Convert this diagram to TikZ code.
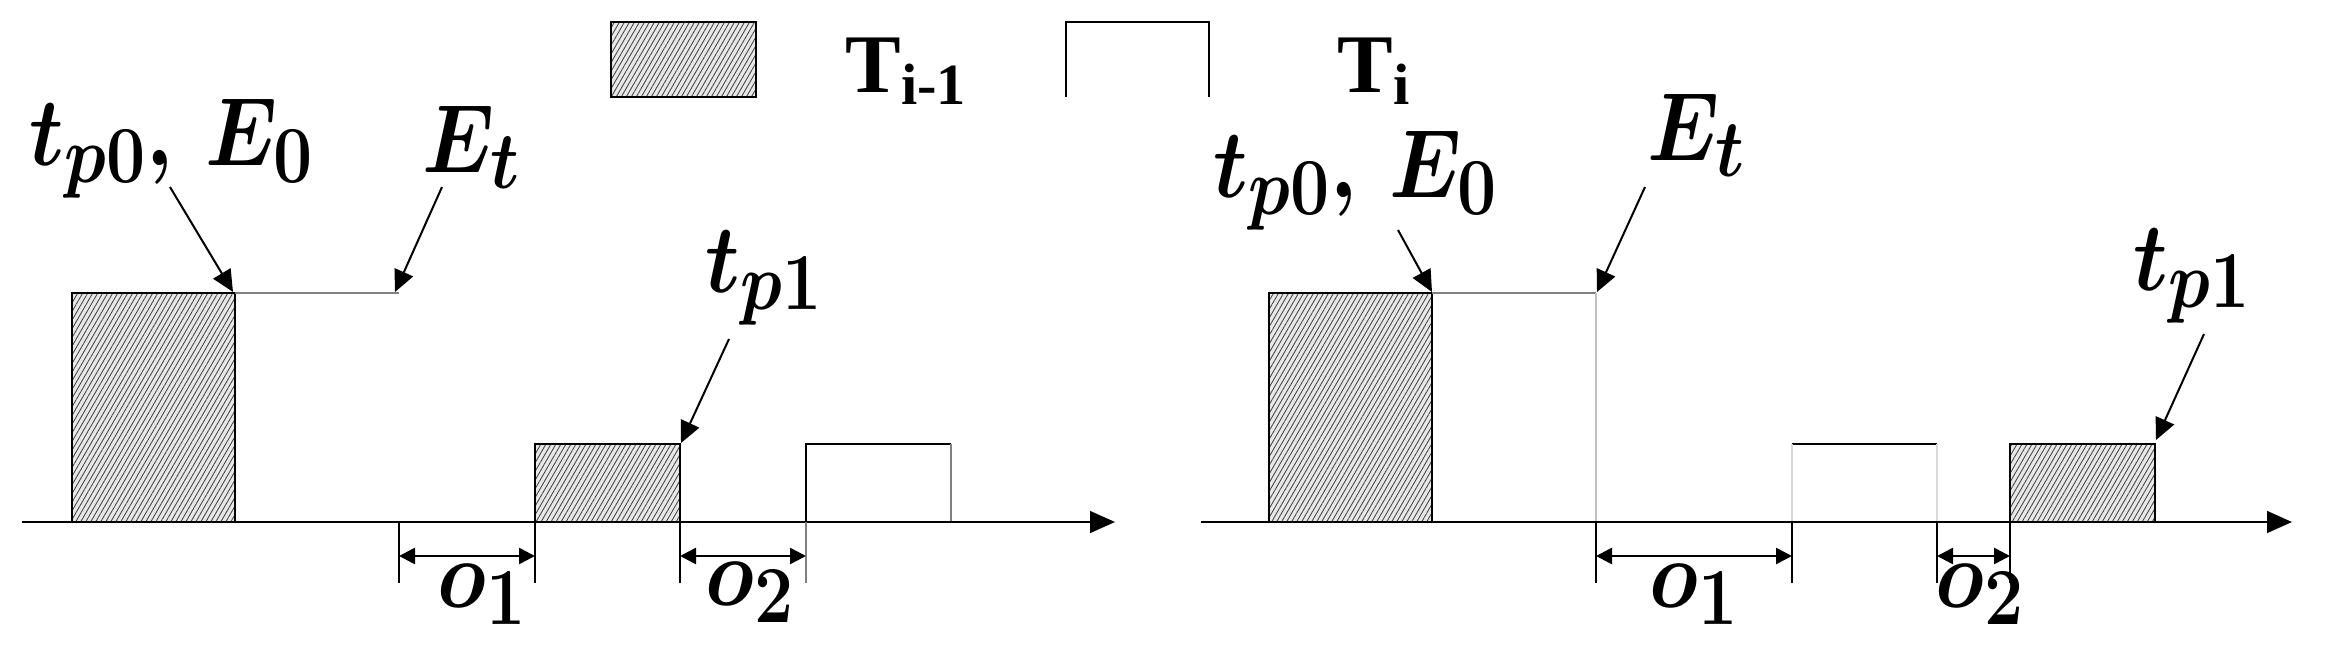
\documentclass[tikz,border=0pt]{standalone}
\usepackage{amsmath}
\usepackage{fontspec}
\newfontfamily\legendfont{Liberation Serif}
\usetikzlibrary{arrows.meta,patterns.meta}

\tikzset{
  hatchbox/.style={draw=black,line width=0.4pt,preaction={fill=gray!18},
    pattern={Lines[angle=60,distance=1.3pt,line width=0.25pt]},pattern color=black!75},
  axisline/.style={line width=0.8pt,-{Triangle[length=7.5pt,width=6.5pt]}},
  tickline/.style={line width=0.6pt},
  gapline/.style={line width=0.8pt,{Triangle[length=4.8pt,width=4.8pt]}-{Triangle[length=4.8pt,width=4.8pt]}},
  callout/.style={line width=0.6pt,-{Triangle[length=6.5pt,width=6pt]}},
  lbl/.style={font=\Huge,scale=1.17,xscale=0.86,inner sep=0pt,anchor=base west},
  legendlbl/.style={font=\fontsize{25}{30}\selectfont\legendfont\bfseries,inner sep=0pt,anchor=base west},
  thinline/.style={line width=0.4pt},
}

\begin{document}
\begin{tikzpicture}[x=0.3pt,y=0.3pt,yscale=-1]
\useasboundingbox (0,0) rectangle (2337,653);

%Legend
\draw [hatchbox] (611,22) rectangle (756,97);
\node [legendlbl] (legold) at (845,92) {T\textsubscript{i-1}};
\draw [thinline] (1066,97) -- (1066,22) -- (1209,22) -- (1209,97);
\node [legendlbl] (legnew) at (1337,92) {T\textsubscript{i}};

%%%%%%%% left panel
%Shapes
\draw [hatchbox] (72,293) rectangle (235,522);
\draw [thinline,gray] (235,293) -- (399,293);
\draw [hatchbox] (535,444) rectangle (680,522);
\draw [thinline] (806,522) -- (806,444) -- (951,444);
\draw [thinline,gray] (951,444) -- (951,522);

%Axis
\coordinate (axL0) at (22,522);
\coordinate (axL1) at (1115,522);
\draw [axisline] (axL0) -- (axL1);

%Ticks and gaps
\foreach \xx/\nm in {399/a,535/b,680/c,806/d}{
  \coordinate (tL\nm) at (\xx,556);
}
\foreach \xx in {399,535,680}{
  \draw [tickline] (\xx,522) -- (\xx,583);
}
\draw [tickline,gray] (806,522) -- (806,583);
\draw [gapline] (tLa) -- (tLb);
\draw [gapline] (tLc) -- (tLd);

% Text Node
\node [lbl] (tpzL) at (29,165) {$\boldsymbol{t_{p0},\,E_0}$};
\node [lbl] (etL) at (422,172) {$\boldsymbol{E_t}$};
\node [lbl] (tpoL) at (705,292) {$\boldsymbol{t_{p1}}$};
\node [lbl] (ooL) at (437,607) {$\boldsymbol{o_1}$};
\node [lbl] (otL) at (705,605) {$\boldsymbol{o_2}$};

%Callouts
\coordinate (tpzLs) at (170,187);
\coordinate (tpzLe) at (233,292);
\coordinate (etLs) at (442,187);
\coordinate (etLe) at (395,292);
\coordinate (tpoLs) at (729,339);
\coordinate (tpoLe) at (681,443);
\draw [callout] (tpzLs) -- (tpzLe);
\draw [callout] (etLs) -- (etLe);
\draw [callout] (tpoLs) -- (tpoLe);

%%%%%%%% right panel
%Shapes
\draw [hatchbox] (1269,293) rectangle (1432,522);
\draw [thinline,gray] (1432,293) -- (1596,293);
\draw [thinline,gray!50] (1596,293) -- (1596,522);
\draw [thinline] (1792,444) -- (1937,444);
\draw [thinline,gray!30] (1792,444) -- (1792,522) (1937,444) -- (1937,522);
\draw [hatchbox] (2010,444) rectangle (2155,522);

%Axis
\coordinate (axR0) at (1201,522);
\coordinate (axR1) at (2292,522);
\draw [axisline] (axR0) -- (axR1);

%Ticks and gaps
\foreach \xx/\nm in {1596/a,1792/b,1937/c,2010/d}{
  \coordinate (tR\nm) at (\xx,556);
  \draw [tickline] (\xx,522) -- (\xx,583);
}
\draw [gapline] (tRa) -- (tRb);
\draw [gapline] (tRc) -- (tRd);

% Text Node
\node [lbl] (tpzR) at (1213,197) {$\boldsymbol{t_{p0},\,E_0}$};
\node [lbl] (etR) at (1647,160) {$\boldsymbol{E_t}$};
\node [lbl] (tpoR) at (2133,290) {$\boldsymbol{t_{p1}}$};
\node [lbl] (ooR) at (1649,607) {$\boldsymbol{o_1}$};
\node [lbl] (otR) at (1935,607) {$\boldsymbol{o_2}$};

%Callouts
\coordinate (tpzRs) at (1398,230);
\coordinate (tpzRe) at (1432,292);
\coordinate (etRs) at (1645,187);
\coordinate (etRe) at (1597,292);
\coordinate (tpoRs) at (2204,334);
\coordinate (tpoRe) at (2156,440);
\draw [callout] (tpzRs) -- (tpzRe);
\draw [callout] (etRs) -- (etRe);
\draw [callout] (tpoRs) -- (tpoRe);

\end{tikzpicture}
\end{document}
